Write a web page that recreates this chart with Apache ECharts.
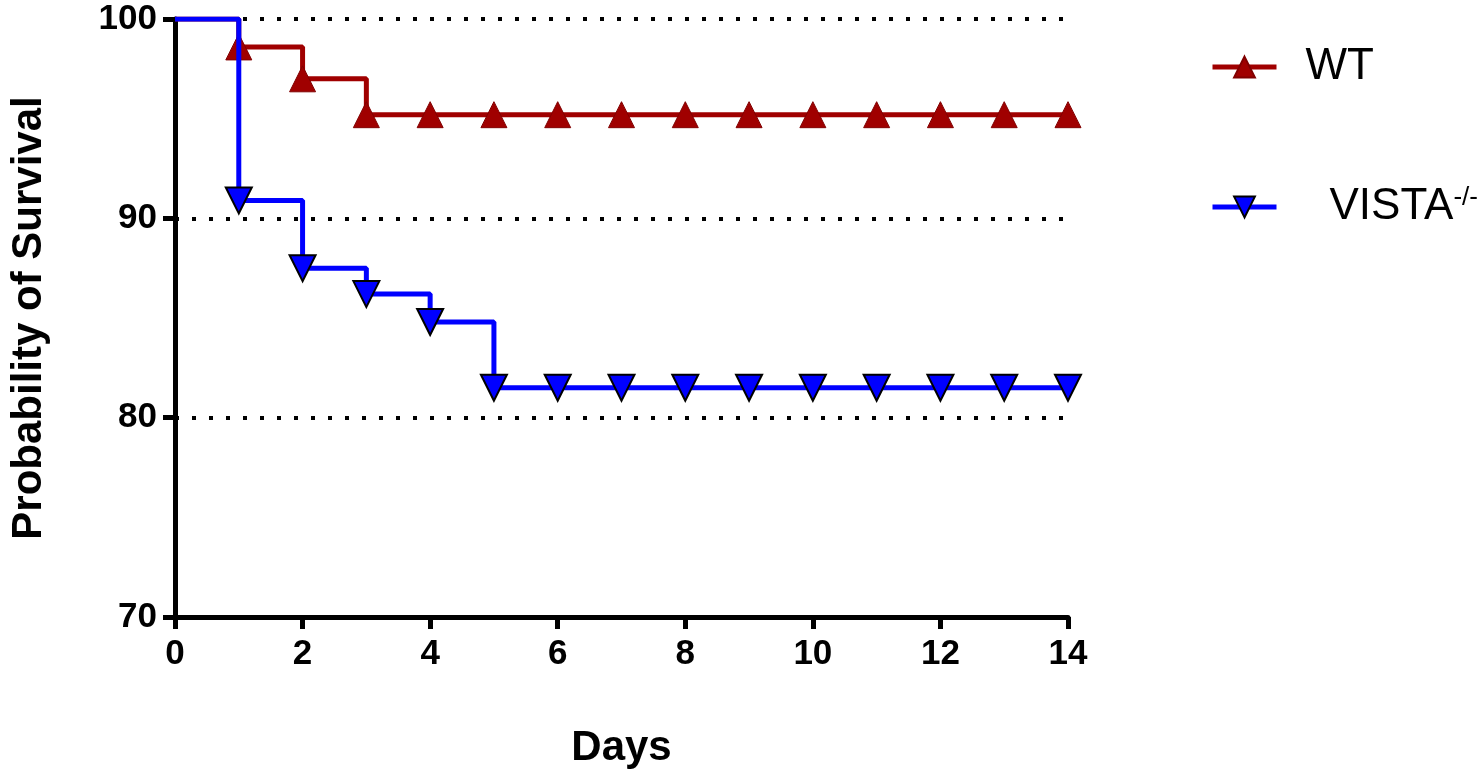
<!DOCTYPE html>
<html><head><meta charset="utf-8">
<script src="https://cdn.jsdelivr.net/npm/echarts@6/dist/echarts.min.js"></script>
<style>html,body{margin:0;padding:0;background:#fff}#c{width:1484px;height:774px}</style>
</head><body><div id="c"></div>
<script>
const days = [0,1,2,3,4,5,6,7,8,9,10,11,12,13,14];
const wt = [100,98.6,97.0,95.2,95.2,95.2,95.2,95.2,95.2,95.2,95.2,95.2,95.2,95.2,95.2];
const vista = [100,90.9,87.5,86.2,84.8,81.5,81.5,81.5,81.5,81.5,81.5,81.5,81.5,81.5,81.5];
const yTicks = [70,80,90,100];
const toData = arr => arr.map((v,i)=> i===0 ? {value:[days[i],v],symbol:'none'} : [days[i],v]);
const chart = echarts.init(document.getElementById('c'));
const axisFont = {color:'#000',fontSize:35,fontWeight:'bold',fontFamily:'Liberation Sans'};
chart.setOption({
  animation:false,
  grid:{left:168,right:416,top:19,bottom:156},
  legend:{
    orient:'vertical', left:1205, top:40, itemGap:96, itemWidth:64, itemHeight:26,
    lineStyle:{width:5},
    textStyle:{fontSize:44,color:'#000',fontFamily:'Liberation Sans',padding:[0,0,0,24],
      rich:{sup:{fontSize:26,verticalAlign:'top',padding:[0,0,18,0],color:'#000',fontFamily:'Liberation Sans'}, n:{fontSize:44,color:'#000',fontFamily:'Liberation Sans',padding:[0,0,0,24]}}},
    formatter: n => n==='VISTA' ? '{n|VISTA}{sup|-/-}' : n,
    data:['WT','VISTA']
  },
  xAxis:{type:'value',min:0,max:14,interval:2,
    name:'Days',nameLocation:'middle',nameGap:110,nameTextStyle:{fontSize:42,fontWeight:'bold',color:'#000',fontFamily:'Liberation Sans'},
    axisLine:{lineStyle:{color:'#000',width:5}},axisTick:{show:true,length:12,lineStyle:{width:5,color:'#000'}},
    axisLabel:Object.assign({margin:20},axisFont),splitLine:{show:false}},
  yAxis:{type:'value',min:70,max:100,interval:10,
    name:'Probability of Survival',nameLocation:'middle',nameGap:125,nameTextStyle:{fontSize:42,fontWeight:'bold',color:'#000',fontFamily:'Liberation Sans'},
    axisLine:{show:true,lineStyle:{color:'#000',width:5}},axisTick:{show:true,length:12,lineStyle:{width:5,color:'#000'}},
    axisLabel:Object.assign({margin:18,formatter:v=>yTicks.includes(v)?String(v):''},axisFont),
    splitLine:{show:true,lineStyle:{type:[4,13],width:4,color:'#000'}}},
  series:[
    {name:'WT',type:'line',step:'end',data:toData(wt),symbol:'triangle',symbolSize:26,
      lineStyle:{color:'#A00000',width:5},itemStyle:{color:'#A00000',borderColor:'#800000',borderWidth:1},z:3},
    {name:'VISTA',type:'line',step:'end',data:toData(vista),symbol:'triangle',symbolRotate:180,symbolSize:26,
      lineStyle:{color:'#0000FF',width:5},itemStyle:{color:'#0000FF',borderColor:'#000',borderWidth:2},z:4}
  ]
});
</script></body></html>
